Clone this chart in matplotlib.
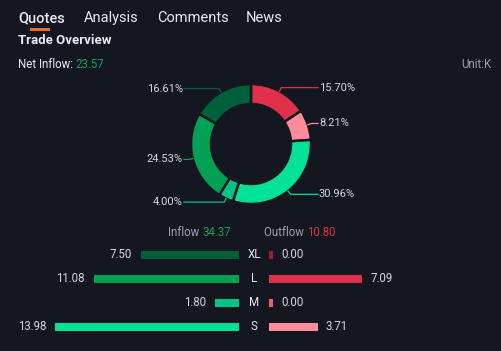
import numpy as np
import matplotlib
matplotlib.use("Agg")
import matplotlib.pyplot as plt

plt.rcParams['font.family'] = ['Roboto', 'DejaVu Sans']

# ---- data ----
categories = ["XL", "L", "M", "S"]
inflow = [7.50, 11.08, 1.80, 13.98]
outflow = [0.00, 7.09, 0.00, 3.71]
inflow_total = 34.37
outflow_total = 10.80
net_inflow = 23.57

# donut, clockwise from top
donut_labels = ["15.70%", "8.21%", "30.96%", "4.00%", "24.53%", "16.61%"]
donut_values = [15.70, 8.21, 30.96, 4.00, 24.53, 16.61]

tabs = ["Quotes", "Analysis", "Comments", "News"]

# ---- style ----
BG = "#14171f"
WHITE = "#e8eaef"
GRAY = "#9aa1b0"
VAL = "#d3d7df"
GREEN_TXT = "#10a35c"
RED_TXT = "#e0334a"
in_colors = ["#00603a", "#00a055", "#00c585", "#00e396"]
out_colors = ["#a11d2c", "#e03049", "#f0596b", "#ff8c9a"]
donut_colors = [out_colors[1], out_colors[3], in_colors[3], in_colors[2], in_colors[1], in_colors[0]]

W, H = 501, 351
fig = plt.figure(figsize=(W / 100, H / 100), dpi=100, facecolor=BG)


def ftext(x, y, s, **kw):
    kw.setdefault("va", "center")
    return fig.text(x / W, 1 - y / H, s, **kw)


# ---- header ----
tab_x = [18, 84, 157, 246]
for i, (t, x) in enumerate(zip(tabs, tab_x)):
    ftext(x, 18, t, fontsize=10.5, color=WHITE, ha="left",
          fontweight="medium" if i == 0 else "normal")
ax_bg = fig.add_axes([0, 0, 1, 1])
ax_bg.set_xlim(0, W)
ax_bg.set_ylim(H, 0)
ax_bg.axis("off")
ax_bg.add_patch(plt.Rectangle((30, 28), 20, 3, color="#f26a1b", lw=0))

ftext(18, 40, "Trade Overview", fontsize=9.5, color=WHITE, fontweight="bold", ha="left")
t1 = ftext(18, 64, "Net Inflow: ", fontsize=8.3, color=WHITE, ha="left")
fig.canvas.draw()
bb = t1.get_window_extent()
fig.text(bb.x1 / W, 1 - 64 / H, f"{net_inflow:.2f}", fontsize=8.3, color=GREEN_TXT,
         ha="left", va="center")
ftext(491, 64, "Unit:K", fontsize=8.3, color=GRAY, ha="right")

# ---- donut ----
ax = fig.add_axes([0, 0, 1, 1])
ax.set_facecolor("none")
cx, cy, R = 251, H - 144, 60
wedges, _ = ax.pie(donut_values, colors=donut_colors, startangle=90, counterclock=False,
                   center=(cx, cy), radius=R,
                   wedgeprops=dict(width=20, edgecolor=BG, linewidth=1.8))
cum = np.cumsum([0] + donut_values)
tot = cum[-1]
for i, lab in enumerate(donut_labels):
    mid = (cum[i] + cum[i + 1]) / 2 / tot * 2 * np.pi
    sx, sy = np.sin(mid), np.cos(mid)
    p0 = (cx + R * sx, cy + R * sy)
    p1 = (cx + (R + 4) * sx, cy + (R + 4) * sy)
    if sx >= 0:
        xe = 318
        ax.plot([p0[0], p1[0], xe], [p0[1], p1[1], p1[1]], color=donut_colors[i], lw=0.9)
        ax.text(xe + 1, p1[1], lab, color=VAL, fontsize=8, ha="left", va="center")
    else:
        xe = 184
        ax.plot([p0[0], p1[0], xe], [p0[1], p1[1], p1[1]], color=donut_colors[i], lw=0.9)
        ax.text(xe - 1, p1[1], lab, color=VAL, fontsize=8, ha="right", va="center")
ax.set_xlim(0, W)
ax.set_ylim(0, H)
ax.set_aspect("auto")
ax.axis("off")

# ---- inflow / outflow header ----
t2 = ftext(168, 232, "Inflow ", fontsize=8.3, color=GRAY, ha="left")
fig.canvas.draw()
bb = t2.get_window_extent()
fig.text(bb.x1 / W, 1 - 232 / H, f"{inflow_total:.2f}", fontsize=8.3, color=GREEN_TXT,
         ha="left", va="center")
t3 = ftext(264, 232, "Outflow ", fontsize=8.3, color=GRAY, ha="left")
fig.canvas.draw()
bb = t3.get_window_extent()
fig.text(bb.x1 / W, 1 - 232 / H, f"{outflow_total:.2f}", fontsize=8.3, color=RED_TXT,
         ha="left", va="center")

# ---- bars ----
PX_PER_UNIT = 13.13
top, bottom = 243, 339
rows = np.arange(len(categories))
# left (inflow) axis: from x=0 to x=239
axl = fig.add_axes([0, 1 - bottom / H, 239 / W, (bottom - top) / H])
axl.set_xlim(239 / PX_PER_UNIT, 0)
axl.set_ylim(len(categories) - 0.5, -0.5)
axl.barh(rows, inflow, height=8 / 24, color=in_colors)
for r, v in zip(rows, inflow):
    axl.text(v + 9 / PX_PER_UNIT, r, f"{v:.2f}", color=VAL, fontsize=8.3, ha="right", va="center")
axl.axis("off")

# right (outflow) axis: from x=269 to x=501
axr = fig.add_axes([269 / W, 1 - bottom / H, (W - 269) / W, (bottom - top) / H])
axr.set_xlim(0, (W - 269) / PX_PER_UNIT)
axr.set_ylim(len(categories) - 0.5, -0.5)
min_w = 4 / PX_PER_UNIT
shown = [max(v, min_w) for v in outflow]
axr.barh(rows, shown, height=8 / 24, color=out_colors)
for r, v in zip(rows, shown):
    pass
for r, v, s in zip(rows, outflow, shown):
    axr.text(s + 8 / PX_PER_UNIT, r, f"{v:.2f}", color=VAL, fontsize=8.3, ha="left", va="center")
axr.axis("off")

for r, c in zip(rows, categories):
    ftext(254, top + 12 + 24 * r, c, fontsize=8.3, color=WHITE, ha="center")

fig.savefig("out.png", dpi=100, facecolor=BG)
